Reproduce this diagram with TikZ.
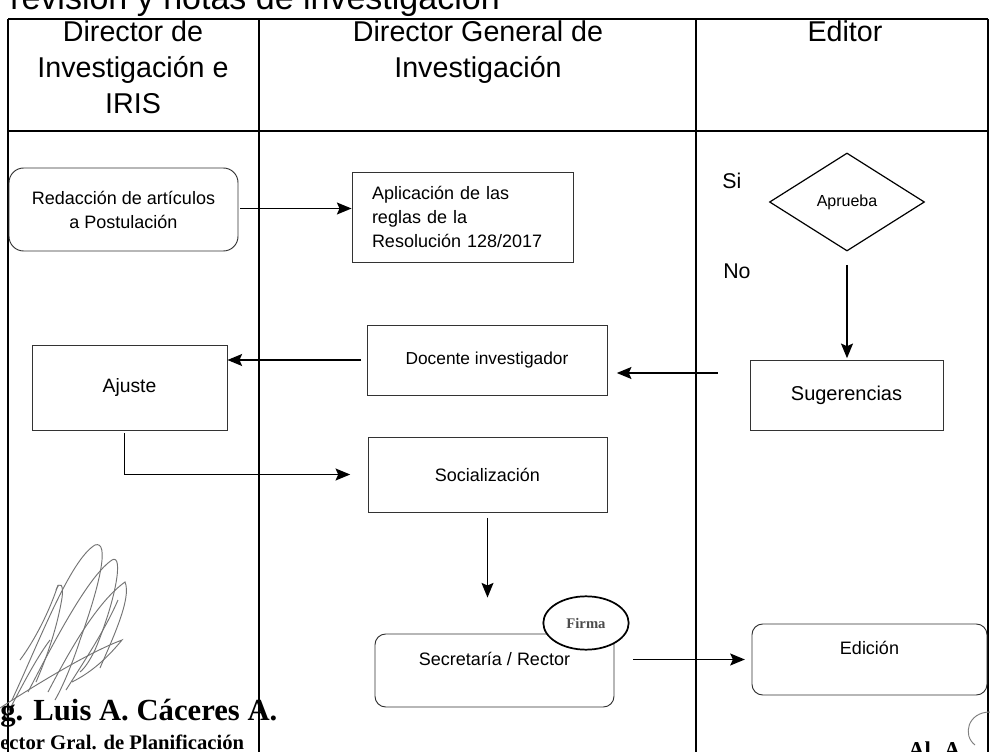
\documentclass[tikz,border=0pt]{standalone}
\usepackage{fontspec}
\setmainfont{Liberation Sans}
\newfontfamily\stampfont{Liberation Serif}
\usetikzlibrary{shapes.geometric,arrows.meta}
\tikzset{
  lane/.style={line width=0.8pt, black},
  procbox/.style={draw=black!80, line width=0.7pt, inner sep=0pt, align=center, font=\fontsize{13.5}{18}\selectfont},
  roundbox/.style={procbox, rounded corners=8pt},
  arr/.style={line width=1pt, -{Stealth[length=11pt,width=9pt,inset=2pt]}},
  sig/.style={draw=black!55, line width=0.7pt},
  hdr/.style={align=center, inner sep=0pt, font=\fontsize{21.5}{27}\selectfont},
  lbl/.style={inner sep=0pt, font=\fontsize{16}{18}\selectfont}
}
\begin{document}
\begin{tikzpicture}[x=0.75pt,y=-0.75pt]
\useasboundingbox (0,0) rectangle (990,752);
\fill[white] (0,0) rectangle (990,752);
\clip (0,0) rectangle (990,752);

% top cut text
\node[anchor=base west, inner sep=0pt, font=\fontsize{25.5}{28}\selectfont] (toptxt) at (10,10) {revisión y notas de investigación};

% lanes
\draw[lane] (8,19) -- (988,19);
\draw[lane] (8,131) -- (988,131);
\draw[lane] (8,19) -- (8,752);
\draw[lane] (259,19) -- (259,752);
\draw[lane] (696,19) -- (696,752);
\draw[lane] (988,19) -- (988,752);

% headers
\node[hdr, anchor=north] (h1) at (133,20) {Director de\\Investigación e\\IRIS};
\node[hdr, anchor=north] (h2) at (478,20) {Director General de\\Investigación};
\node[hdr, anchor=north] (h3) at (845,20) {Editor};

% process nodes
\node[roundbox, rounded corners=11pt, minimum width=171.75pt, minimum height=62.25pt] (red) at (123.5,209.5) {Redacción de artículos\\a Postulación};
\node[procbox, minimum width=165.75pt, minimum height=67.5pt, text width=135.75pt, align=left] (apl) at (462.5,217) {Aplicación de las\\reglas de la\\Resolución 128/2017};
\node[procbox, minimum width=146.25pt, minimum height=63.75pt, font=\fontsize{14.5}{18}\selectfont] (aju) at (129.5,387.5) {Ajuste};
\node[procbox, minimum width=180pt, minimum height=52.5pt, font=\fontsize{13}{18}\selectfont] (doc) at (487,360) {Docente investigador};
\node[procbox, minimum width=144.75pt, minimum height=52.5pt, font=\fontsize{15}{18}\selectfont] (sug) at (846.5,395) {Sugerencias};
\node[procbox, minimum width=179.25pt, minimum height=56.25pt] (soc) at (487.5,474.5) {Socialización};
\node[roundbox, minimum width=179.25pt, minimum height=54.75pt] (sec) at (494.5,670.5) {Secretaría / Rector\\\mbox{}};
\node[roundbox, minimum width=176.25pt, minimum height=53.25pt] (ed) at (869.5,659.5) {Edición\\\mbox{}};
\node[diamond, draw=black, line width=0.9pt, minimum width=116.25pt, minimum height=73.5pt, inner sep=0pt, font=\fontsize{12}{14}\selectfont] (dia) at (847,202) {Aprueba};
\node[ellipse, draw=black, line width=1.3pt, fill=white, minimum width=64pt, minimum height=40pt, inner sep=0pt, text=black!70, font=\stampfont\bfseries\fontsize{11}{13}\selectfont] (firma) at (586,623) {Firma};

% labels
\node[lbl, anchor=base west] (si) at (722,189) {Si};
\node[lbl, anchor=base west] (no) at (723,279) {No};

% connectors
\draw[arr] (red.east) ++(2,-1) coordinate (r1) -- (r1 -| apl.west);
\draw[arr, shorten <=4pt] (doc.west) -- (doc.west -| aju.east);
\coordinate (s1) at ([xshift=-24pt]sug.west |- 0,373);
\draw[arr, shorten >=7pt] (s1) -- (s1 -| doc.east);
\draw[arr, shorten <=10pt, shorten >=1pt] (dia.south) -- (dia.south |- sug.north);
\draw[arr, shorten <=2pt, shorten >=13pt] ([xshift=-4pt]aju.south) |- (soc.west);
\draw[arr, shorten <=4pt, shorten >=27pt] (soc.south) -- (soc.south |- sec.north);
\draw[arr, shorten <=14pt, shorten >=5pt] (sec.east |- ed.west) -- (ed.west);

% signature
\draw[sig] (12,700) .. controls (40,640) and (70,560) .. (95,545) .. controls (110,540) and (100,585) .. (80,640) .. controls (72,665) and (62,688) .. (55,700);
\draw[sig] (28,692) .. controls (60,630) and (90,575) .. (112,560) .. controls (124,553) and (116,600) .. (95,650) .. controls (90,660) and (85,668) .. (80,672);
\draw[sig] (48,692) .. controls (75,640) and (100,600) .. (125,582) .. controls (132,598) and (112,640) .. (100,668);
\draw[sig] (0,708) .. controls (40,682) and (90,652) .. (122,640) .. controls (104,662) and (88,674) .. (72,682);
\draw[sig] (36,682) .. controls (50,650) and (58,622) .. (62,598) .. controls (64,585) and (60,580) .. (56,590);
\draw[sig] (20,660) .. controls (35,640) and (50,610) .. (58,585);
\draw[sig] (4,720) .. controls (20,690) and (35,660) .. (50,640);
\draw[sig] (66,690) .. controls (85,660) and (105,630) .. (118,600);
\node[anchor=base west, inner sep=0pt, font=\stampfont\bfseries\fontsize{23}{26}\selectfont] (stamp1) at (0,720) {g. Luis A. Cáceres A.};
\node[anchor=base west, inner sep=0pt, font=\stampfont\bfseries\fontsize{15.5}{18}\selectfont] (stamp2) at (0,749) {ector Gral. de Planificación};
\node[anchor=base west, inner sep=0pt, font=\stampfont\bfseries\fontsize{17}{20}\selectfont] (stamp3) at (908,757) {Al. A.};
\draw[sig, black!50] (990,712) .. controls (968,712) and (962,735) .. (975,745);
\end{tikzpicture}
\end{document}
